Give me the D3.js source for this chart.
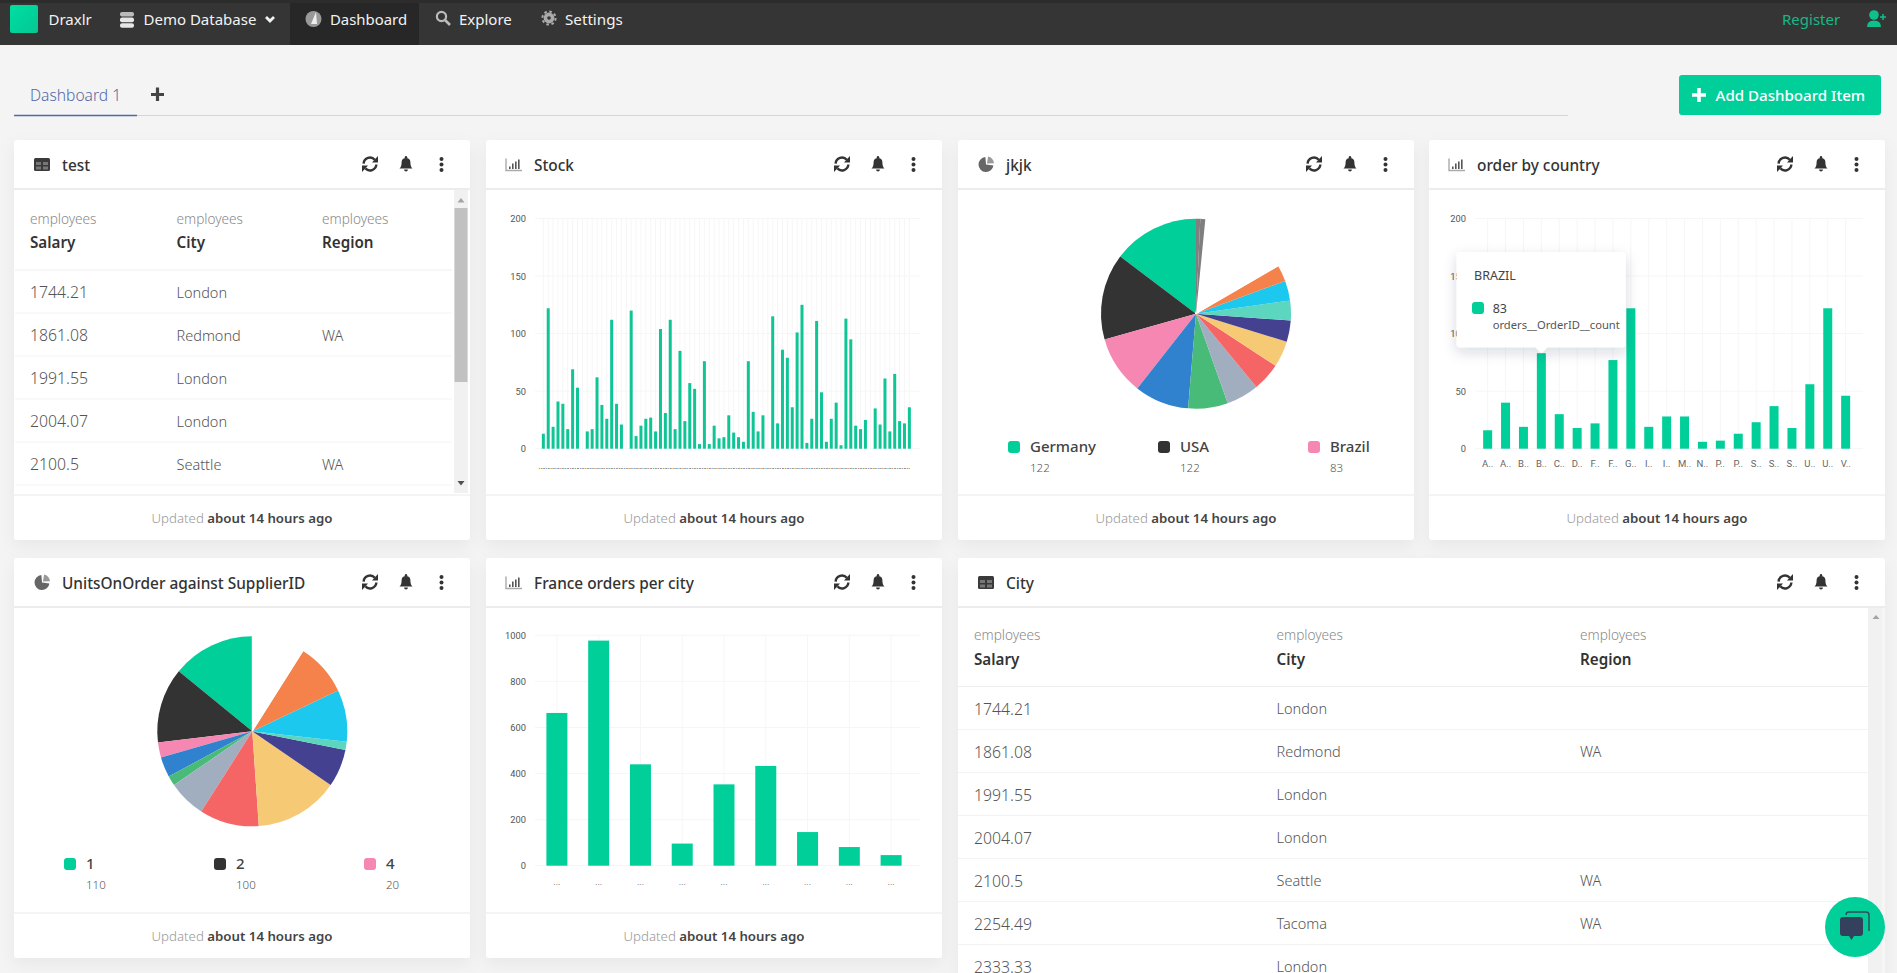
<!DOCTYPE html>
<html><head><meta charset="utf-8">
<script src="https://cdn.jsdelivr.net/npm/d3@7"></script>
<style>
html,body{margin:0;padding:0;background:#f4f4f4;overflow:hidden}
svg{display:block;font-family:"Noto Sans",sans-serif}
</style></head><body>
<svg id="page" width="1897" height="973"></svg>
<script>
// ---------- DATA ----------
const stockValues = [13,122,19,41,39,17,69,53,0,15,17,62,38,26,112,39,21,0,120,11,20,26,27,15,104,31,112,17,85,24,57,52,4,76,4,20,9,10,29,14,10,6,76,32,15,29,0,115,22,86,79,36,101,125,5,26,111,49,6,26,40,3,113,95,20,17,25,0,35,21,61,15,65,24,22,36];
const stockTicks = [0,50,100,150,200];
const countryLabels = ["A..","A..","B..","B..","C..","D..","F..","F..","G..","I..","I..","M..","N..","P..","P..","S..","S..","S..","U..","U..","V.."];
const countryValues = [16,40,19,83,30,18,22,77,122,19,28,28,6,7,13,23,37,18,56,122,46];
const franceValues = [663,977,440,96,353,433,146,81,46];
const franceTicks = [0,200,400,600,800,1000];
const pieCountryValues = [122,122,83,77,56,46,40,37,30,28,28,23,22,19,19,18,18,16,13,7,6];
const pieCountryLegend = ["Germany","USA","Brazil"];
const pieSupplierValues = [110,100,20,27,13,50,79,112,50,11,69,70,70];
const pieSupplierLegend = ["1","2","4"];
const pieColors = ["#00cf9a","#333333","#f687b3","#3182ce","#48bb78","#a0aec0","#f56565","#f6ca75","#434190","#5dd6c0","#1cc8ee","#f6824b","#ffffff","#ffffff","#ffffff","#ffffff","#ffffff","#ffffff","#ffffff","#7f7f7f","#7f7f7f"];
const salaries = ["1744.21","1861.08","1991.55","2004.07","2100.5","2254.49","2333.33"];
const cities = ["London","Redmond","London","London","Seattle","Tacoma","London"];
const regions = ["","WA","","","WA","WA",""];
const tableHeaders = ["Salary","City","Region"];
const updatedBold = "about 14 hours ago";
const tooltipValue = 83;

// ---------- HELPERS ----------
const svg = d3.select("#page");
const GREEN = "#00cf9a";
function txt(g,x,y,s,o={}){
  return g.append("text").attr("x",x).attr("y",y).attr("dy",".35em").text(s)
    .attr("font-size",o.size||14).attr("font-weight",o.weight||400)
    .attr("fill",o.fill||"#333").attr("text-anchor",o.anchor||"start")
    .attr("font-family",o.family||null).attr("letter-spacing",o.ls||null);
}
const defs = svg.append("defs");
const sh = defs.append("filter").attr("id","cardShadow").attr("x","-10%").attr("y","-10%").attr("width","120%").attr("height","125%");
sh.append("feDropShadow").attr("dx",0).attr("dy",6).attr("stdDeviation",8).attr("flood-color","#000").attr("flood-opacity",.05);
const ts = defs.append("filter").attr("id","tipShadow").attr("x","-20%").attr("y","-20%").attr("width","140%").attr("height","150%");
ts.append("feDropShadow").attr("dx",0).attr("dy",5).attr("stdDeviation",7).attr("flood-color","#1a2a50").attr("flood-opacity",.16);
const lg = defs.append("linearGradient").attr("id","logo").attr("x1",0).attr("y1",0).attr("x2",1).attr("y2",1);
lg.append("stop").attr("offset","0%").attr("stop-color","#00e0a0");
lg.append("stop").attr("offset","50%").attr("stop-color","#00d39c");
lg.append("stop").attr("offset","100%").attr("stop-color","#08c58f");

function iconTable(g,x,y){const i=g.append("g").attr("transform",`translate(${x},${y})`);
  i.append("rect").attr("x",-8).attr("y",-6.5).attr("width",16).attr("height",13).attr("rx",1.5).attr("fill","#3a3a3a");
  [[-6,-2.5],[1,-2.5],[-6,2],[1,2]].forEach(p=>i.append("rect").attr("x",p[0]).attr("y",p[1]).attr("width",5).attr("height",3).attr("fill","#777"));}
function iconBars(g,x,y){const i=g.append("g").attr("transform",`translate(${x},${y})`);
  i.append("path").attr("d","M-8,-6V6H8").attr("stroke","#aaa").attr("stroke-width",1.4).attr("fill","none");
  [[-5,2],[-2,-1],[1,-3],[4,-5]].forEach(p=>i.append("rect").attr("x",p[0]).attr("y",p[1]).attr("width",1.6).attr("height",4.5-p[1]).attr("fill","#555"));}
function iconPie(g,x,y){const i=g.append("g").attr("transform",`translate(${x},${y})`);
  i.append("path").attr("d",d3.arc()({innerRadius:0,outerRadius:7,startAngle:.15,endAngle:1.55})).attr("fill","#999").attr("transform","translate(1,-1)");
  i.append("path").attr("d",d3.arc()({innerRadius:0,outerRadius:7.5,startAngle:1.7,endAngle:6.2})).attr("fill","#666");}
function iconRefresh(g,x,y){const i=g.append("g").attr("transform",`translate(${x},${y})`).attr("fill","#333");
  const a=d3.arc().innerRadius(5.2).outerRadius(7.6);
  i.append("path").attr("d",a({startAngle:-1.5,endAngle:.85}));
  i.append("path").attr("d",a({startAngle:1.65,endAngle:3.95}));
  i.append("path").attr("d","M8,-8V-1.5H2Z");
  i.append("path").attr("d","M-8,8V1.5H-2Z");}
function iconBell(g,x,y){const i=g.append("g").attr("transform",`translate(${x},${y})`).attr("fill","#333");
  i.append("path").attr("d","M-6.5,4.5C-4.6,3-4.4,0-4.4,-2C-4.4,-4.6-2.4,-6-0,-6C2.4,-6 4.4,-4.6 4.4,-2C4.4,0 4.6,3 6.5,4.5Z");
  i.append("circle").attr("cy",-6.7).attr("r",1.2);
  i.append("path").attr("d","M-1.9,5.6A1.9,1.9 0 0 0 1.9,5.6Z");}
function iconDots(g,x,y){[-5.6,0,5.6].forEach(d=>g.append("circle").attr("cx",x).attr("cy",y+d).attr("r",2).attr("fill","#333"));}

function card(x,y,w,h,icon,title,opts={}){
  const g=svg.append("g");
  g.append("rect").attr("x",x).attr("y",y).attr("width",w).attr("height",h).attr("rx",3).attr("fill","#fff").attr("filter","url(#cardShadow)");
  g.append("rect").attr("x",x).attr("y",y+48).attr("width",w).attr("height",2).attr("fill","#ececec");
  icon(g,x+28,y+24.5);
  txt(g,x+48,y+25.5,title,{size:15.4,weight:500,fill:"#333"});
  const r=x+w;
  iconRefresh(g,r-100,y+24);
  iconBell(g,r-64,y+24);
  iconDots(g,r-28.5,y+24.5);
  if(!opts.noFooter){
    g.append("line").attr("x1",x).attr("x2",x+w).attr("y1",y+h-45).attr("y2",y+h-45).attr("stroke","#eaeaea");
    const t=txt(g,x+w/2,y+h-22,"",{size:13.25,anchor:"middle",fill:"#999"});
    t.append("tspan").text("Updated ").attr("font-weight",300);
    t.append("tspan").text(updatedBold).attr("font-weight",600).attr("fill","#444");
  }
  return g;
}

function barChart(g,o){
  const x=d3.scaleBand().domain(d3.range(o.values.length)).range(o.xRange);
  const y=d3.scaleLinear().domain([0,o.ticks[o.ticks.length-1]]).range(o.yRange);
  const grid=g.append("g").attr("stroke","#f6f6f6");
  grid.selectAll(".h").data(o.ticks).join("line").attr("x1",o.grid[0]).attr("x2",o.grid[1]).attr("y1",d=>y(d)).attr("y2",d=>y(d));
  grid.selectAll(".v").data(x.domain()).join("line").attr("x1",d=>x(d)+x.bandwidth()/2).attr("x2",d=>x(d)+x.bandwidth()/2).attr("y1",o.yRange[1]).attr("y2",o.yRange[0]);
  g.selectAll(".bar").data(o.values).join("rect").attr("x",(d,i)=>x(i)+(x.bandwidth()-o.barW)/2).attr("width",o.barW)
    .attr("y",d=>y(d)).attr("height",d=>y(0)-y(d)).attr("fill",o.color||GREEN);
  const ya=g.append("g").attr("transform",`translate(${o.grid[0]-4},0)`).call(d3.axisLeft(y).tickValues(o.ticks).tickSize(0).tickPadding(5).tickFormat(d3.format("d")));
  ya.select(".domain").remove();
  ya.selectAll("text").attr("font-size",9.3).attr("fill","#555").attr("font-family","Roboto");
  const xa=g.append("g").attr("transform",`translate(${o.labelDx||0},${o.labelY})`).call(d3.axisBottom(x).tickSize(0).tickPadding(0).tickFormat(o.label));
  xa.select(".domain").remove();
  xa.selectAll("text").attr("font-size",o.labelSize).attr("fill",o.labelFill||"#666").attr("font-family","Roboto");
  return {x,y};
}

function pieChart(g,values,cx,cy,r,legend,legendX,legendY){
  const color=d3.scaleOrdinal().domain(d3.range(pieColors.length)).range(pieColors);
  const pie=d3.pie().sort(null).startAngle(0).endAngle(-2*Math.PI);
  const arc=d3.arc().innerRadius(0).outerRadius(r);
  g.append("g").attr("transform",`translate(${cx},${cy})`).selectAll("path").data(pie(values)).join("path")
    .attr("d",arc).attr("fill",(d,i)=>color(i)).attr("stroke",(d,i)=>color(i)==="#ffffff"?"#fff":"none");
  legend.forEach((name,i)=>{
    const lx=legendX+i*150;
    g.append("rect").attr("x",lx).attr("y",legendY-6).attr("width",12).attr("height",12).attr("rx",3).attr("fill",color(i));
    txt(g,lx+22,legendY,name,{size:15,weight:500,fill:"#444"});
    txt(g,lx+22,legendY+21,values[i],{size:11.5,fill:"#555",weight:300});
  });
}

function table(g,xs,o){
  o.head.forEach((h,i)=>{
    txt(g,xs[i],o.y0,"employees",{size:13.6,fill:"#888",weight:300});
    txt(g,xs[i],o.y0+24,h,{size:15.2,weight:600,fill:"#333"});
  });
  g.append("line").attr("x1",o.x0).attr("x2",o.x1).attr("y1",o.y0+51).attr("y2",o.y0+51).attr("stroke","#eeeeee");
  d3.range(o.rows).forEach(r=>{
    const cy=o.y0+73.5+r*43, ly=o.y0+94+r*43;
    txt(g,xs[0],cy,salaries[r],{size:15.8,fill:"#555",weight:300});
    txt(g,xs[1],cy,cities[r],{size:14.5,fill:"#555",weight:300});
    if(regions[r])txt(g,xs[2],cy,regions[r],{size:14.5,fill:"#555",weight:300});
    g.append("line").attr("x1",o.x0).attr("x2",o.x1).attr("y1",ly).attr("y2",ly).attr("stroke","#f3f3f3");
  });
}

// ---------- PAGE BACKGROUND & NAV ----------
svg.append("rect").attr("width",1897).attr("height",973).attr("fill","#f4f4f4");
const nav=svg.append("g");
nav.append("rect").attr("width",1897).attr("height",45).attr("fill","#353535");
nav.append("rect").attr("width",1897).attr("height",3).attr("fill","#2c2c2c");
nav.append("rect").attr("x",290).attr("y",3).attr("width",129).attr("height",42).attr("fill","#272727");
nav.append("rect").attr("x",10).attr("y",5).attr("width",28).attr("height",28).attr("rx",2).attr("fill","url(#logo)");
txt(nav,48.5,20,"Draxlr",{size:15,fill:"#f2f2f2"});
// db icon
const db=nav.append("g").attr("transform","translate(127,20)").attr("fill","#e6e6e6");
db.append("rect").attr("x",-7).attr("y",-8).attr("width",14).attr("height",4.6).attr("rx",2).attr("fill","#bbb");
db.append("rect").attr("x",-7).attr("y",-2.4).attr("width",14).attr("height",4.6).attr("rx",2);
db.append("rect").attr("x",-7).attr("y",3.2).attr("width",14).attr("height",4.6).attr("rx",2);
txt(nav,143.5,20,"Demo Database",{size:15,fill:"#f2f2f2"});
nav.append("path").attr("d","M266,17L270,21L274,17").attr("stroke","#f2f2f2").attr("stroke-width",2.8).attr("fill","none");
// gauge
nav.append("circle").attr("cx",313.5).attr("cy",19).attr("r",8).attr("fill","#999");
nav.append("path").attr("d","M311,24L316,12L317,24Z").attr("fill","#eee");
txt(nav,330,20,"Dashboard",{size:14.9,fill:"#f2f2f2"});
// search
nav.append("circle").attr("cx",441.5).attr("cy",16.5).attr("r",4.6).attr("fill","none").attr("stroke","#bbb").attr("stroke-width",2.2);
nav.append("line").attr("x1",445).attr("y1",20).attr("x2",450).attr("y2",25).attr("stroke","#bbb").attr("stroke-width",2.6);
txt(nav,459,20,"Explore",{size:15,fill:"#f2f2f2"});
// gear
nav.append("circle").attr("cx",549).attr("cy",18).attr("r",5.4).attr("fill","#aaa");
nav.append("circle").attr("cx",549).attr("cy",18).attr("r",6.6).attr("fill","none").attr("stroke","#aaa").attr("stroke-width",2).attr("stroke-dasharray","2.6,2.6");
nav.append("circle").attr("cx",549).attr("cy",18).attr("r",1.8).attr("fill","#333");
txt(nav,565,20,"Settings",{size:15.2,fill:"#f2f2f2"});
txt(nav,1782,20,"Register",{size:15,fill:"#15b887"});
const ur=nav.append("g").attr("fill","#0fc08d");
ur.append("circle").attr("cx",1874).attr("cy",15).attr("r",4.8);
ur.append("path").attr("d","M1867,27Q1867,20.5 1874,20.5Q1881,20.5 1881,27Z");
ur.append("path").attr("d","M1883,14V20M1880,17H1886").attr("stroke","#0fc08d").attr("stroke-width",1.5);

// ---------- TABS ----------
const tabs=svg.append("g");
txt(tabs,30,95.5,"Dashboard 1",{size:15.6,fill:"#5468a8",weight:300});
tabs.append("path").attr("d","M157.5,87.5V101M151,94.5H164").attr("stroke","#444").attr("stroke-width",3.2);
tabs.append("line").attr("x1",14).attr("x2",1568).attr("y1",115.5).attr("y2",115.5).attr("stroke","#d5d5d5");
tabs.append("line").attr("x1",14).attr("x2",137).attr("y1",115.5).attr("y2",115.5).attr("stroke","#5468a8").attr("stroke-width",1.4);
tabs.append("rect").attr("x",1679).attr("y",75).attr("width",202).attr("height",40).attr("rx",3).attr("fill",GREEN);
tabs.append("path").attr("d","M1699,88V102M1692,95H1706").attr("stroke","#fff").attr("stroke-width",3.6);
txt(tabs,1715.5,95.5,"Add Dashboard Item",{size:15.1,fill:"#fff",weight:500});

// ---------- CARDS ----------
const c1=card(14,140,456,400,iconTable,"test");
svg.append("rect").attr("x",454).attr("y",190).attr("width",14).attr("height",303).attr("fill","#f1f1f1");
svg.append("rect").attr("x",454.5).attr("y",208).attr("width",13).attr("height",174).attr("fill","#c1c1c1");
svg.append("path").attr("d","M457.5,202.5L461,198L464.5,202.5Z").attr("fill","#a3a3a3");
svg.append("path").attr("d","M457.5,481L461,485.5L464.5,481Z").attr("fill","#505050");
table(c1,[30,176.5,322],{head:tableHeaders,y0:219,x0:15,x1:452,rows:5});

const c2=card(486,140,456,400,iconBars,"Stock");
barChart(c2,{values:stockValues,ticks:stockTicks,xRange:[540.9,911.8],yRange:[448.7,218.5],grid:[535,920],barW:3,
  label:()=>"...",labelY:464,labelDx:-2,labelSize:7,labelFill:"#111",color:"#0fc596"});

const c3=card(958,140,456,400,iconPie,"jkjk");
pieChart(c3,pieCountryValues,1196,313.7,95,pieCountryLegend,1008,447);

const c4=card(1429,140,456,400,iconBars,"order by country");
const oc=barChart(c4,{values:countryValues,ticks:stockTicks,xRange:[1478.7,1854.6],yRange:[448.7,218.5],grid:[1475,1863],barW:9,
  label:i=>countryLabels[i],labelY:460,labelSize:9.5,labelFill:"#666"});

const c5=card(14,558,456,400,iconPie,"UnitsOnOrder against SupplierID");
pieChart(c5,pieSupplierValues,252.3,731.3,95,pieSupplierLegend,64,864);

const c6=card(486,558,456,400,iconBars,"France orders per city");
barChart(c6,{values:franceValues,ticks:franceTicks,xRange:[536,912],yRange:[865.7,635.3],grid:[535,920],barW:21,
  label:()=>"...",labelY:879,labelSize:9,labelFill:"#666"});

const c7=card(958,558,927,460,iconTable,"City",{noFooter:true});
svg.append("rect").attr("x",1868).attr("y",608).attr("width",14).attr("height",365).attr("fill","#f1f1f1");
svg.append("rect").attr("x",1882).attr("y",608).attr("width",3).attr("height",365).attr("fill","#f6f6f6");
svg.append("path").attr("d","M1872.5,619L1876,615L1879.5,619Z").attr("fill","#a3a3a3");
table(c7,[974,1276.5,1580],{head:tableHeaders,y0:635.5,x0:958,x1:1868,rows:7});

// ---------- TOOLTIP ----------
const tip=svg.append("g");
const tx=oc.x(3)+oc.x.bandwidth()/2, tyTop=oc.y(tooltipValue)-6;
tip.append("path").attr("d",`M1459.7,252H1622.7Q1625.7,252 1625.7,255V${tyTop-3}Q1625.7,${tyTop} 1622.7,${tyTop}H${tx+6}L${tx},${tyTop+6}L${tx-6},${tyTop}H1459.7Q1456.7,${tyTop} 1456.7,${tyTop-3}V255Q1456.7,252 1459.7,252Z`)
  .attr("fill","#fff").attr("filter","url(#tipShadow)");
txt(tip,1474,276,"BRAZIL",{size:12.5,fill:"#444"});
tip.append("rect").attr("x",1472).attr("y",302).attr("width",12).attr("height",12).attr("rx",3).attr("fill",GREEN);
txt(tip,1492.7,308.5,tooltipValue,{size:12.5,fill:"#444"});
txt(tip,1492.7,325,"orders__OrderID__count",{size:11.2,fill:"#555"});

// ---------- CHAT BUBBLE ----------
const chat=svg.append("g");
chat.append("circle").attr("cx",1855).attr("cy",927).attr("r",30).attr("fill",GREEN);
chat.append("path").attr("d","M1846,915a3,3 0 0 1 3,-3h17a3,3 0 0 1 3,3v16").attr("fill","none").attr("stroke","#2f4a5e").attr("stroke-width",1.4);
chat.append("path").attr("d","M1843,917h17a3,3 0 0 1 3,3v13a3,3 0 0 1 -3,3h-6l-2.5,4l-2.5,-4h-6a3,3 0 0 1 -3,-3v-13a3,3 0 0 1 3,-3Z").attr("fill","#33415c");
</script>
</body></html>
